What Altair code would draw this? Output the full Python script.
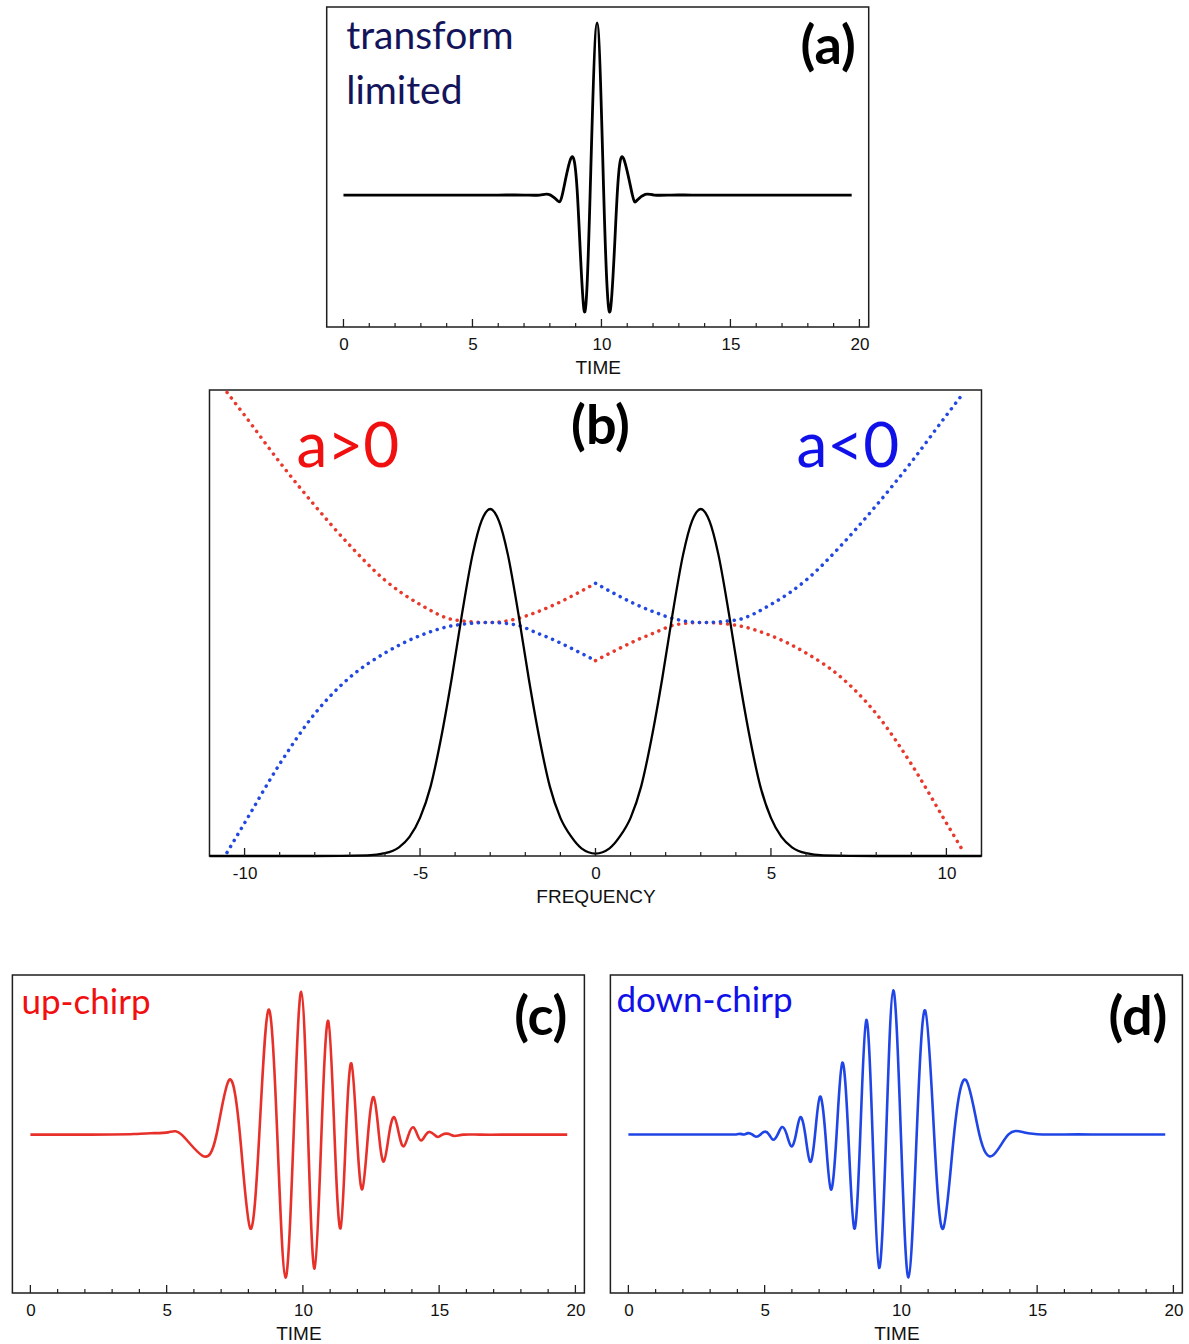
import altair as alt
import pandas as pd

# ---------------- data ----------------
# (a) transform-limited pulse: turning points and zero crossings of the field
A_TIME = [0.0, 1.5, 3.0, 4.5, 6.0, 7.0, 7.6, 7.95, 8.28, 8.48, 8.80, 9.07, 9.33, 9.56, 9.83,
          10.09, 10.34, 10.61, 10.87, 11.20, 11.38, 11.70, 12.05, 12.7, 13.5, 15.0, 16.5, 18.0, 19.7]
A_FIELD = [0, 0, 0, 0, 0, 0, 0, 0.004, -0.030, 0, 0.208, 0, -0.674, 0, 1.0,
           0, -0.674, 0, 0.208, 0, -0.030, 0.004, 0, 0, 0, 0, 0, 0, 0]

# (b) spectrum (two lobes) and spectral phase for both chirp signs
B_FREQ = [-11.0, -8.0, -6.5, -6.0, -5.6, -5.3, -5.0, -4.7, -4.4, -4.1, -3.8, -3.5, -3.25, -3.0,
          -2.75, -2.5, -2.2, -1.9, -1.6, -1.3, -1.0, -0.7, -0.4, 0.0,
          0.4, 0.7, 1.0, 1.3, 1.6, 1.9, 2.2, 2.5, 2.75,
          3.0, 3.25, 3.5, 3.8, 4.1, 4.4, 4.7, 5.0, 5.3, 5.6, 6.0, 6.5, 8.0, 11.0]
B_POWER = [0, 0, 0.002, 0.008, 0.025, 0.055, 0.11, 0.20, 0.34, 0.51, 0.70, 0.87, 0.965, 1.0,
           0.965, 0.87, 0.70, 0.51, 0.34, 0.20, 0.11, 0.057, 0.022, 0.007,
           0.022, 0.057, 0.11, 0.20, 0.34, 0.51, 0.70, 0.87, 0.965,
           1.0, 0.965, 0.87, 0.70, 0.51, 0.34, 0.20, 0.11, 0.055, 0.025, 0.008, 0.002, 0, 0]

# phase for a>0 (red) and a<0 (blue), each drawn as two branches meeting at zero frequency
POS_LEFT_F = [-10.5, -10.0, -9.0, -8.0, -7.0, -6.0, -5.0, -4.0, -3.0, -2.26, -1.70, -1.13, -0.56, 0.0]
POS_LEFT_P = [1.336, 1.27, 1.135, 1.01, 0.895, 0.795, 0.725, 0.680, 0.673, 0.683, 0.702, 0.726, 0.755, 0.786]
POS_RIGHT_F = [0.0, 0.56, 1.13, 1.70, 2.26, 3.0, 4.0, 5.0, 6.0, 7.0, 8.0, 9.0, 10.0, 10.5]
POS_RIGHT_P = [0.563, 0.592, 0.620, 0.644, 0.666, 0.673, 0.665, 0.635, 0.585, 0.515, 0.41, 0.265, 0.095, 0.01]
NEG_LEFT_F = [-10.5, -10.0, -9.0, -8.0, -7.0, -6.0, -5.0, -4.0, -3.0, -2.26, -1.70, -1.13, -0.56, 0.0]
NEG_LEFT_P = [0.01, 0.095, 0.265, 0.41, 0.515, 0.585, 0.635, 0.665, 0.673, 0.666, 0.644, 0.620, 0.592, 0.563]
NEG_RIGHT_F = [0.0, 0.56, 1.13, 1.70, 2.26, 3.0, 4.0, 5.0, 6.0, 7.0, 8.0, 9.0, 10.0, 10.5]
NEG_RIGHT_P = [0.786, 0.755, 0.726, 0.702, 0.683, 0.673, 0.680, 0.725, 0.795, 0.895, 1.01, 1.135, 1.27, 1.336]

# (c) up-chirp field
C_TIME = [0.0, 1.0, 2.0, 3.0, 3.8, 4.4, 5.06, 5.55, 6.32, 6.83, 7.29, 7.69, 8.07, 8.40, 8.74,
          9.06, 9.36, 9.66, 9.94, 10.19, 10.43, 10.68, 10.93, 11.16, 11.38, 11.58, 11.78, 11.98,
          12.18, 12.39, 12.60, 12.79, 12.97, 13.16, 13.35, 13.53, 13.70, 13.88, 14.05, 14.20,
          14.35, 14.51, 14.67, 14.82, 14.96, 15.12, 15.27, 15.42, 15.57, 15.9, 16.5, 17.5, 18.5, 19.7]
C_FIELD = [0, 0, 0, 0.001, 0.004, 0.010, 0.016, 0, -0.148, 0, 0.382, 0, -0.656, 0, 0.874,
           0, -1.0, 0, 1.0, 0, -0.937, 0, 0.796, 0, -0.656, 0, 0.499, 0,
           -0.382, 0, 0.262, 0, -0.188, 0, 0.122, 0, -0.082, 0, 0.051, 0,
           -0.040, 0, 0.019, 0, -0.016, 0, 0.007, 0, -0.009, 0, 0, 0, 0, 0]

# (d) down-chirp field
D_TIME = [0.0, 1.0, 2.0, 3.0, 3.6, 3.95, 4.10, 4.25, 4.39, 4.54, 4.69, 4.85, 5.00, 5.16, 5.31,
          5.48, 5.64, 5.81, 5.98, 6.15, 6.31, 6.49, 6.67, 6.85, 7.03, 7.23, 7.43, 7.64, 7.85,
          8.07, 8.29, 8.51, 8.73, 8.96, 9.20, 9.46, 9.72, 10.00, 10.28, 10.58, 10.89, 11.22,
          11.55, 11.95, 12.39, 12.88, 13.37, 13.95, 14.53, 15.2, 16.0, 17.0, 18.0, 19.7]
D_FIELD = [0, 0, 0, 0, 0, 0, 0.004, 0, 0.009, 0, -0.016, 0, 0.019, 0, -0.037,
           0, 0.051, 0, -0.083, 0, 0.120, 0, -0.190, 0, 0.262, 0, -0.382, 0, 0.498,
           0, -0.653, 0, 0.794, 0, -0.926, 0, 1.0, 0, -0.991, 0, 0.861, 0,
           -0.653, 0, 0.377, 0, -0.146, 0, 0.014, 0, 0, 0, 0, 0]

TIME_LABELS = [0, 5, 10, 15, 20]
TIME_MAJOR = [0, 5, 10, 15, 20]
TIME_MINOR = [v for v in range(0, 21) if v % 5]
FREQ_LABELS = [-10, -5, 0, 5, 10]
FREQ_MAJOR = [-10, -5, 0, 5, 10]
FREQ_MINOR = [v for v in range(-10, 11) if v % 5]

PANEL_TAGS = ["(a)", "(b)", "(c)", "(d)"]
A_NOTES = ["transform", "limited"]
B_NOTES = ["a>0", "a<0"]
C_NOTE = "up-chirp"
D_NOTE = "down-chirp"

# ---------------- styling ----------------
FRAME = "#1e1e1e"
AXIS_FONT = "Liberation Sans"
NOTE_FONT = "Lato"
RED_LINE = "#e8302a"
BLUE_LINE = "#1f45e6"
RED_DOT = "#e8392c"
BLUE_DOT = "#2248e0"
RED_TEXT = "#f01010"
BLUE_TEXT = "#1010e8"
NAVY_TEXT = "#14145a"


def x_enc(lo, hi, title, label_values):
    return alt.X(
        "x:Q",
        scale=alt.Scale(domain=[lo, hi], nice=False, zero=False),
        axis=alt.Axis(
            values=label_values, labelExpr="'' + datum.value", ticks=False, domain=False,
            grid=False, labelFont=AXIS_FONT, labelFontSize=17, labelColor="#111",
            labelPadding=9, labelFlush=False, title=title, titleFont=AXIS_FONT,
            titleFontSize=19, titleFontWeight="normal", titleColor="#111", titlePadding=6,
        ),
    )


def y_enc(lo, hi):
    return alt.Y("y:Q", scale=alt.Scale(domain=[lo, hi], nice=False, zero=False), axis=None)


def tick_rules(xe, major, minor, h):
    big = alt.Chart(pd.DataFrame({"x": major})).mark_rule(color=FRAME, strokeWidth=1.3).encode(
        x=xe, y=alt.value(h - 8), y2=alt.value(h))
    small = alt.Chart(pd.DataFrame({"x": minor})).mark_rule(color=FRAME, strokeWidth=1.2).encode(
        x=xe, y=alt.value(h - 4), y2=alt.value(h))
    return [big, small]


def note(text, px, py, size, color, align="left", baseline="alphabetic", weight="normal"):
    return alt.Chart(pd.DataFrame({"t": [text]})).mark_text(
        align=align, baseline=baseline, font=NOTE_FONT, fontSize=size, fontWeight=weight,
        color=color).encode(x=alt.value(px), y=alt.value(py), text="t:N")


# ---------------- panel (a) ----------------
WA, HA = 542, 320
xa = x_enc(-0.65, 20.36, "TIME", TIME_LABELS)
line_a = alt.Chart(pd.DataFrame({"x": A_TIME, "y": A_FIELD})).mark_line(
    color="black", strokeWidth=2.8, interpolate="natural").encode(x=xa, y=y_enc(-0.767, 1.093))
panel_a = alt.layer(
    line_a, *tick_rules(xa, TIME_MAJOR, TIME_MINOR, HA),
    note(A_NOTES[0], 19.5, 42, 39, NAVY_TEXT),
    note(A_NOTES[1], 19.5, 97, 39, NAVY_TEXT),
    note(PANEL_TAGS[0], 529, 41, 54, "black", align="right", baseline="middle", weight="bold"),
).properties(width=WA, height=HA)

# ---------------- panel (b) ----------------
WB, HB = 772, 466
xb = x_enc(-11, 11, "FREQUENCY", FREQ_LABELS)
yb = y_enc(0, 1.343)
phase_rows = []
for seg, fs, ps, sign in [
    ("pos_left", POS_LEFT_F, POS_LEFT_P, "a>0"),
    ("pos_right", POS_RIGHT_F, POS_RIGHT_P, "a>0"),
    ("neg_left", NEG_LEFT_F, NEG_LEFT_P, "a<0"),
    ("neg_right", NEG_RIGHT_F, NEG_RIGHT_P, "a<0"),
]:
    for f, p in zip(fs, ps):
        phase_rows.append({"x": f, "y": p, "seg": seg, "sign": sign})
phase = alt.Chart(pd.DataFrame(phase_rows)).mark_line(
    strokeWidth=3.5, strokeDash=[0.1, 6.9], strokeCap="round", interpolate="monotone", clip=True
).encode(
    x=xb, y=yb, detail="seg:N",
    color=alt.Color("sign:N", scale=alt.Scale(domain=["a>0", "a<0"], range=[RED_DOT, BLUE_DOT]),
                    legend=None),
)
spectrum = alt.Chart(pd.DataFrame({"x": B_FREQ, "y": B_POWER})).mark_line(
    color="black", strokeWidth=2.3, interpolate="monotone").encode(x=xb, y=yb)
panel_b = alt.layer(
    phase, spectrum, *tick_rules(xb, FREQ_MAJOR, FREQ_MINOR, HB),
    note(B_NOTES[0], 87, 77, 62, RED_TEXT),
    note(B_NOTES[1], 587, 77, 62, BLUE_TEXT),
    note(PANEL_TAGS[1], 391, 38, 54, "black", align="center", baseline="middle", weight="bold"),
).properties(width=WB, height=HB)

# ---------------- panels (c) and (d) ----------------
WC, HC = 572, 318
xc = x_enc(-0.66, 20.33, "TIME", TIME_LABELS)
line_c = alt.Chart(pd.DataFrame({"x": C_TIME, "y": C_FIELD})).mark_line(
    color=RED_LINE, strokeWidth=2.6, interpolate="natural").encode(x=xc, y=y_enc(-1.108, 1.117))
panel_c = alt.layer(
    line_c, *tick_rules(xc, TIME_MAJOR, TIME_MINOR, HC),
    note(C_NOTE, 9, 39, 35, RED_TEXT),
    note(PANEL_TAGS[2], 555, 44, 54, "black", align="right", baseline="middle", weight="bold"),
).properties(width=WC, height=HC)

xd = x_enc(-0.66, 20.33, "TIME", TIME_LABELS)
line_d = alt.Chart(pd.DataFrame({"x": D_TIME, "y": D_FIELD})).mark_line(
    color=BLUE_LINE, strokeWidth=2.6, interpolate="natural").encode(x=xd, y=y_enc(-1.10, 1.106))
panel_d = alt.layer(
    line_d, *tick_rules(xd, TIME_MAJOR, TIME_MINOR, HC),
    note(D_NOTE, 6, 37, 35, BLUE_TEXT),
    note(PANEL_TAGS[3], 557, 44, 54, "black", align="right", baseline="middle", weight="bold"),
).properties(width=WC, height=HC)

# ---------------- layout ----------------
top = alt.vconcat(panel_a, panel_b, spacing=11, center=True)
bottom = alt.hconcat(panel_c, panel_d, spacing=23)
chart = (
    alt.vconcat(top, bottom, spacing=67, center=True)
    .properties(padding={"left": 11, "top": 6, "right": 4, "bottom": 2}, background="white")
    .configure_view(stroke=FRAME, strokeWidth=1.5)
)

chart.save("out.html", embed_options={"renderer": "svg", "actions": False})
